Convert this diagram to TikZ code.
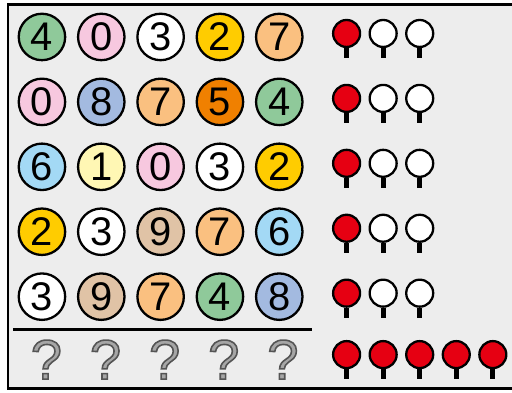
\documentclass[tikz,border=0pt]{standalone}
\usepackage{fontspec}
\setmainfont{Liberation Sans}
\definecolor{bgc}{HTML}{EDEDED}
\definecolor{c0}{HTML}{F7C8DF}
\definecolor{c1}{HTML}{FFF7B4}
\definecolor{c2}{HTML}{FFCC00}
\definecolor{c3}{HTML}{FFFFFF}
\definecolor{c4}{HTML}{8FC99A}
\definecolor{c5}{HTML}{F08000}
\definecolor{c6}{HTML}{A3D9F5}
\definecolor{c7}{HTML}{FAC080}
\definecolor{c8}{HTML}{A3BAE0}
\definecolor{c9}{HTML}{E0C3A6}
\definecolor{pegred}{HTML}{E60012}
\definecolor{qfill}{HTML}{A6A6A6}
\newcommand\outq{\special{pdf:literal direct q 2 Tr 1.6 w 0.33 0.33 0.33 RG}?\special{pdf:literal direct Q}}
\begin{document}
\begin{tikzpicture}[x=1bp,y=-1bp,
  ball/.style={circle, draw, line width=2.3bp, minimum size=46.5bp, inner sep=0pt, font=\fontsize{40bp}{40bp}\selectfont},
  peghead/.style={circle, draw, line width=2.3bp, minimum size=27bp, inner sep=0pt},
  pegstem/.style={line width=5bp},
  qmark/.style={inner sep=0pt, text=qfill, font=\fontsize{56bp}{56bp}\selectfont}]
\useasboundingbox (0,0) rectangle (512.6,392.46);
\fill[bgc] (8,4.5) rectangle (520,389);
\draw[line width=2.5bp] (520,4.5) -- (8,4.5) -- (8,389) -- (520,389);
% balls
\foreach \row [count=\r] in {{4,0,3,2,7},{0,8,7,5,4},{6,1,0,3,2},{2,3,9,7,6},{3,9,7,4,8}}{
  \foreach \d [count=\c] in \row {
    \node[ball, fill=c\d] (b\r\c) at ({42+59.4*(\c-1)}, {37+65*(\r-1)}) {\d};
  }
  \node[peghead, fill=pegred] (p\r1) at (347, {33.5+65*(\r-1)}) {};
  \node[peghead, fill=white] (p\r2) at (383.6, {33.5+65*(\r-1)}) {};
  \node[peghead, fill=white] (p\r3) at (420.2, {33.5+65*(\r-1)}) {};
  \foreach \k in {1,2,3}{
    \draw[pegstem] (p\r\k.south) -- ++(0,10);
  }
}
% separator
\coordinate (sl) at (13,330);
\coordinate (sr) at (312,330);
\draw[line width=3bp] (sl) -- (sr);
% question marks
\foreach \c in {1,...,5}{
  \node[qmark] (q\c) at ({46.5+59.2*(\c-1)}, 360) {\outq};
}
% answer pegs
\foreach \k in {1,...,5}{
  \node[peghead, fill=pegred] (a\k) at ({347+36.6*(\k-1)}, 355) {};
  \draw[pegstem] (a\k.south) -- ++(0,10);
}
\end{tikzpicture}
\end{document}
